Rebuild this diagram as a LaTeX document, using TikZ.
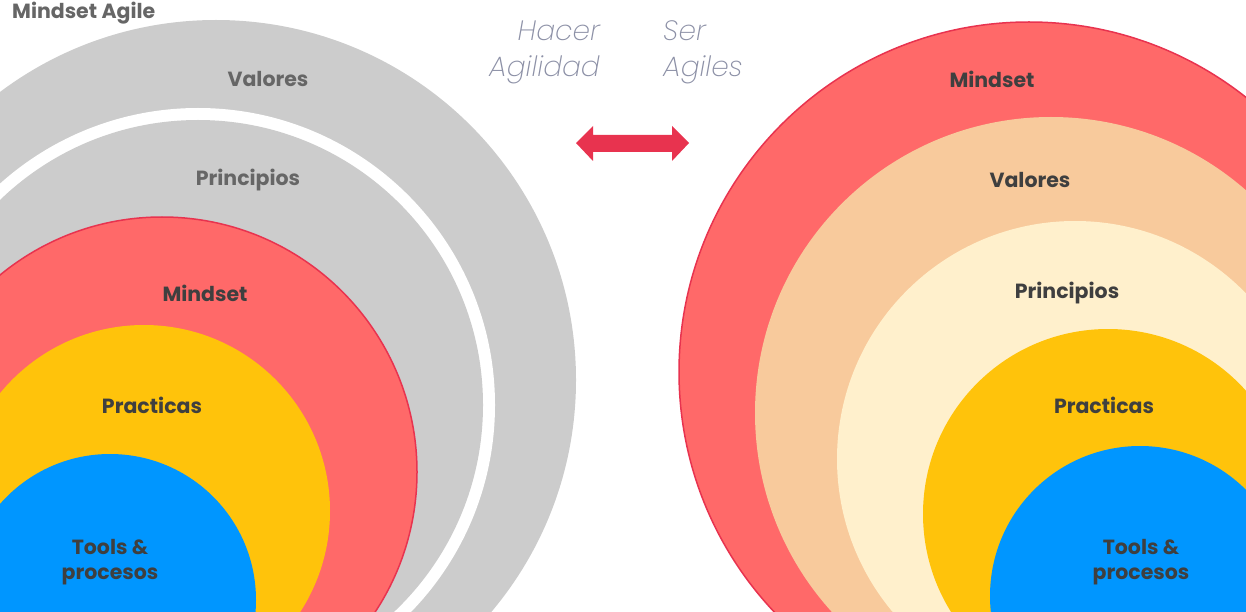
\documentclass[tikz,border=0pt]{standalone}
\usepackage{fontspec}
\setmainfont{Poppins}
\newfontfamily\labelfont{Poppins}[UprightFont=* Bold]
\newfontfamily\thinfont{Poppins}[UprightFont=* ExtraLight Italic]
\usepackage{xcolor}
\usetikzlibrary{positioning}

\definecolor{ringgray}{HTML}{CCCCCC}
\definecolor{mindred}{HTML}{FF6969}
\definecolor{edgered}{HTML}{E8334F}
\definecolor{practyellow}{HTML}{FFC30B}
\definecolor{toolblue}{HTML}{0096FF}
\definecolor{valpeach}{HTML}{F8CA9C}
\definecolor{princream}{HTML}{FFF0CC}
\definecolor{darktext}{HTML}{3F3F3F}
\definecolor{midtext}{HTML}{666666}
\definecolor{thintext}{HTML}{8C90A6}

\begin{document}
\begin{tikzpicture}[
        x=1pt, y=-1pt,
        every node/.style={inner sep=0pt},
        tag/.style={font=\labelfont\fontsize{20.5}{25}\selectfont, text=darktext, align=center},
        graytag/.style={tag, text=midtext},
        thin/.style={font=\thinfont\fontsize{28}{36}\selectfont, text=thintext},
        rim/.style={draw=edgered, line width=1.5pt},
    ]
        \useasboundingbox (0,0) rectangle (1246,612);
        \clip (0,0) rectangle (1246,612);

        % Left onion (Hacer Agilidad)
        \fill [ringgray] (216,380) circle [radius=360pt];
        \fill [white] (198,405) circle [radius=297pt];
        \fill [ringgray] (198,405) circle [radius=285pt];
        \filldraw [fill=mindred, rim] (162,472) circle [radius=255pt];
        \fill [practyellow] (144,511) circle [radius=186pt];
        \fill [toolblue] (110,600) circle [radius=146pt];

        % Right onion (Ser Agiles)
        \filldraw [fill=mindred, rim] (1029,372) circle [radius=350pt];
        \fill [valpeach] (1051,413) circle [radius=296pt];
        \fill [princream] (1075,459) circle [radius=238pt];
        \fill [practyellow] (1108,514) circle [radius=185pt];
        \fill [toolblue] (1140,596) circle [radius=150pt];

        % Double arrow between both
        \fill [edgered] (576,143) -- (593,126) -- (593,135) -- (672,135) -- (672,126)
            -- (689,143) -- (672,161) -- (672,152) -- (593,152) -- (593,161) -- cycle;

        % --- Labels ---
        \node (title) [tag, text=midtext, anchor=west] at (12,13) {Mindset Agile};
        \node (hacer) [thin, anchor=east, align=right] at (600,52) {Hacer\\Agilidad};
        \node (ser) [thin, anchor=west, align=left] at (663,52) {Ser\\Agiles};

        \node (valL) [graytag] at (268,79) {Valores};
        \node (prinL) [graytag] at (248,180) {Principios};
        \node (mindL) [tag] at (205,293) {Mindset};
        \node (pracL) [tag] at (152,405) {Practicas};
        \node (toolL) [tag] at (110,562) {Tools \&\\procesos};

        \node (mindR) [tag] at (992,79) {Mindset};
        \node (valR) [tag] at (1030,180) {Valores};
        \node (prinR) [tag] at (1067,293) {Principios};
        \node (pracR) [tag] at (1104,405) {Practicas};
        \node (toolR) [tag] at (1141,562) {Tools \&\\procesos};

    \end{tikzpicture}
\end{document}
